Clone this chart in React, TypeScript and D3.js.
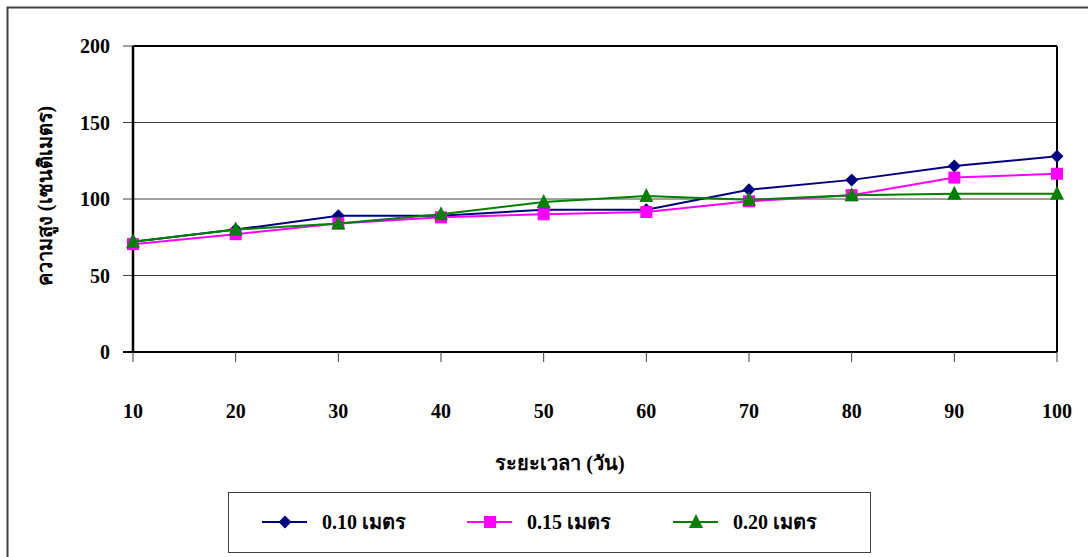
import React from "react";
import * as d3 from "d3";

const days = [10, 20, 30, 40, 50, 60, 70, 80, 90, 100];
const s010 = [72, 80, 89, 89, 93, 93, 106, 112.5, 121.5, 128];
const s015 = [70.5, 77, 84, 88, 90, 91.5, 98.5, 102.5, 114, 116.5];
const s020 = [72, 80, 84, 90, 98, 102, 99.5, 102.5, 103.5, 103.5];
const yTicks = [0, 50, 100, 150, 200];
const seriesNames = ["0.10 เมตร", "0.15 เมตร", "0.20 เมตร"];
const colors = ["#000080", "#FF00FF", "#008000"];

const FONT = "Liberation Serif, Times New Roman, DejaVu Serif, serif";

function Marker({ kind, x, y, color }: { kind: number; x: number; y: number; color: string }) {
  if (kind === 0) {
    const r = 6.5;
    return <path d={`M${x},${y - r}L${x + r},${y}L${x},${y + r}L${x - r},${y}Z`} fill={color} />;
  }
  if (kind === 1) {
    const r = 6;
    return <rect x={x - r} y={y - r} width={2 * r} height={2 * r} fill={color} />;
  }
  const r = 7;
  return <path d={`M${x},${y - r - 1}L${x + r},${y + r - 1}L${x - r},${y + r - 1}Z`} fill={color} />;
}

export default function App() {
  const W = 1088, H = 557;
  const left = 133, right = 1057, top = 46, bottom = 352;
  const x = d3.scaleLinear().domain([10, 100]).range([left, right]);
  const y = d3.scaleLinear().domain([0, 200]).range([bottom, top]);
  const all = [s010, s015, s020];
  const line = d3.line<number>().x((_, i) => x(days[i])).y((d) => y(d));
  const ts = { fontFamily: FONT, fontWeight: 700 } as React.CSSProperties;

  const legendX = [262, 467, 673];
  return (
    <svg width={W} height={H} style={{ position: "absolute", left: 0, top: 0, fontFamily: FONT }}>
      <rect x={0} y={0} width={W} height={H} fill="#fff" />
      <rect x={7.5} y={7.5} width={W + 10} height={H + 10} fill="none" stroke="#404040" strokeWidth={2} />
      {yTicks.map((t) => (
        <line key={t} x1={left - 10} x2={right} y1={y(t)} y2={y(t)} stroke={t === 0 ? "#000" : "#404040"} strokeWidth={t === 0 ? 2 : 1} />
      ))}
      <line x1={left} x2={right} y1={top} y2={top} stroke="#000" strokeWidth={2} />
      <line x1={right} x2={right} y1={top} y2={bottom} stroke="#000" strokeWidth={2} />
      <line x1={left} x2={left} y1={top} y2={bottom} stroke="#000" strokeWidth={2.5} />
      {days.map((d) => (
        <line key={d} x1={x(d)} x2={x(d)} y1={bottom} y2={bottom + 10} stroke="#404040" strokeWidth={1} />
      ))}
      {yTicks.map((t) => (
        <text key={t} x={110} y={y(t)} dy="0.35em" textAnchor="end" fontSize={20} style={ts}>{t}</text>
      ))}
      {days.map((d) => (
        <text key={d} x={x(d)} y={418} textAnchor="middle" fontSize={20} style={ts}>{d}</text>
      ))}
      <text x={560} y={470} textAnchor="middle" fontSize={20} style={ts}>ระยะเวลา (วัน)</text>
      <text transform={`translate(52,196) rotate(-90)`} textAnchor="middle" fontSize={20} style={ts}>ความสูง (เซนติเมตร)</text>
      {all.map((s, k) => (
        <g key={k}>
          <path d={line(s) || ""} fill="none" stroke={colors[k]} strokeWidth={2} />
          {s.map((v, i) => (
            <Marker key={i} kind={k} x={x(days[i])} y={y(v)} color={colors[k]} />
          ))}
        </g>
      ))}
      <rect x={228.5} y={492.5} width={642} height={60} fill="#fff" stroke="#404040" strokeWidth={1} />
      {seriesNames.map((n, k) => (
        <g key={n}>
          <line x1={legendX[k]} x2={legendX[k] + 45} y1={522} y2={522} stroke={colors[k]} strokeWidth={2} />
          <Marker kind={k} x={legendX[k] + 23} y={522} color={colors[k]} />
          <text x={legendX[k] + 60} y={522} dy="0.35em" fontSize={20} style={ts}>{n}</text>
        </g>
      ))}
    </svg>
  );
}
